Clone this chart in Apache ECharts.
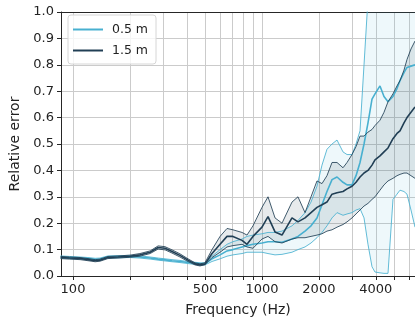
<!DOCTYPE html>
<html>
<head>
<meta charset="utf-8">
<script src="https://cdn.jsdelivr.net/npm/echarts@6/dist/echarts.min.js"></script>
<style>
html,body{margin:0;padding:0;background:#fff;}
#chart{width:415px;height:322px;}
</style>
</head>
<body>
<div id="chart"></div>
<script>
// frequencies (Hz)
var freq = [86,96,109,120,131,139,153,173,200,226,256,282,307,334,368,406,442,470,
    499,544,600,653,702,784,833,896,1000,1076,1172,1276,1441,1550,1689,1817,1954,2077,
    2207,2347,2494,2683,2818,2994,3144,3301,3466,3638,3820,3962,4210,4421,4642,4932,
    5179,5372,5640,5851,6143,6450];

// 0.5 m : lower bound / mean / upper bound
var nearLo = [0.068,0.066,0.064,0.062,0.059,0.060,0.068,0.069,0.070,0.068,0.064,0.060,0.057,0.054,0.051,0.047,0.044,0.042,
    0.042,0.055,0.065,0.075,0.080,0.085,0.090,0.090,0.090,0.085,0.080,0.082,0.090,0.100,0.110,0.125,0.145,0.165,
    0.190,0.220,0.240,0.230,0.235,0.240,0.250,0.255,0.220,0.120,0.035,0.015,0.012,0.010,0.010,0.290,
    0.310,0.325,0.320,0.310,0.250,0.185];
var nearMean = [0.072,0.070,0.068,0.066,0.063,0.064,0.072,0.073,0.074,0.072,0.068,0.064,0.061,0.058,0.055,0.051,0.048,0.046,
    0.046,0.065,0.080,0.095,0.100,0.110,0.115,0.120,0.125,0.130,0.130,0.128,0.140,0.150,0.170,0.190,0.220,0.270,
    0.320,0.365,0.375,0.355,0.345,0.345,0.380,0.430,0.500,0.580,0.670,0.690,0.720,0.680,0.660,0.680,
    0.710,0.740,0.770,0.790,0.795,0.800];
var nearUp = [0.076,0.074,0.072,0.070,0.067,0.068,0.076,0.077,0.078,0.076,0.072,0.068,0.065,0.062,0.059,0.055,0.052,0.050,
    0.050,0.075,0.100,0.120,0.130,0.140,0.150,0.155,0.160,0.165,0.165,0.170,0.190,0.210,0.240,0.280,0.340,0.420,
    0.480,0.500,0.515,0.470,0.460,0.460,0.500,0.550,0.800,1.050,1.300,1.500,1.600,1.700,1.750,1.800,
    1.850,1.900,1.950,2.000,2.050,2.100];

// 1.5 m : lower bound / mean / upper bound
var farLo = [0.066,0.064,0.062,0.058,0.054,0.056,0.066,0.068,0.071,0.075,0.085,0.102,0.099,0.087,0.072,0.055,0.042,0.038,
    0.043,0.070,0.090,0.110,0.115,0.120,0.110,0.105,0.140,0.150,0.130,0.125,0.140,0.145,0.145,0.150,0.155,0.160,
    0.170,0.175,0.185,0.195,0.205,0.220,0.235,0.250,0.265,0.275,0.290,0.300,0.325,0.345,0.360,0.370,
    0.380,0.385,0.390,0.390,0.380,0.370];
var farMean = [0.070,0.068,0.066,0.062,0.058,0.060,0.070,0.072,0.075,0.080,0.090,0.108,0.105,0.093,0.078,0.060,0.046,0.042,
    0.045,0.085,0.120,0.150,0.150,0.135,0.120,0.150,0.185,0.225,0.167,0.155,0.220,0.205,0.220,0.240,0.260,0.270,
    0.280,0.310,0.315,0.320,0.330,0.340,0.355,0.375,0.390,0.400,0.420,0.440,0.455,0.470,0.485,0.520,
    0.540,0.550,0.580,0.600,0.620,0.640];
var farUp = [0.074,0.072,0.070,0.066,0.062,0.064,0.074,0.076,0.079,0.085,0.095,0.114,0.111,0.099,0.084,0.065,0.050,0.046,
    0.050,0.100,0.150,0.180,0.175,0.165,0.155,0.190,0.260,0.300,0.220,0.200,0.280,0.300,0.240,0.300,0.360,0.350,
    0.380,0.430,0.430,0.410,0.430,0.460,0.490,0.530,0.530,0.545,0.555,0.570,0.590,0.620,0.660,0.690,
    0.720,0.740,0.780,0.820,0.860,0.890];

var tickFreqs = [100,200,300,400,500,600,700,800,900,1000,2000,3000,4000,5000,6000];
var labelFreqs = [100,500,1000,2000,4000];

var nearColor = '#48b0d0';
var farColor = '#213f55';
var axisColor = '#262626';
var gridColor = '#cbcbcb';

function pairs(vals){
    var out = [];
    for (var i = 0; i < freq.length; i++) {
        out.push([freq[i], vals[i]]);
    }
    return out;
}

// shaded band between lower and upper bound, polygon built from axis coords
function bandSeries(name, up, lo, fill){
    return {
        name: name, type: 'custom', silent: true, clip: true, z: 1,
        data: [0],
        renderItem: function(params, api){
            var pts = [];
            for (var i = 0; i < freq.length; i++) {
                pts.push(api.coord([freq[i], up[i]]));
            }
            for (var j = freq.length - 1; j >= 0; j--) {
                pts.push(api.coord([freq[j], lo[j]]));
            }
            var cs = params.coordSys;
            return {
                type: 'polygon',
                shape: {points: pts},
                style: {fill: fill, stroke: 'none'},
                clipPath: {type: 'rect', shape: {x: cs.x, y: cs.y, width: cs.width, height: cs.height}}
            };
        }
    };
}
function lineSeries(name, vals, color, width, opacity, z){
    return {
        name: name, type: 'line', data: pairs(vals), symbol: 'none',
        lineStyle: {color: color, width: width, opacity: opacity},
        itemStyle: {color: color}, z: z
    };
}

var series = [];
series.push(bandSeries('near_band', nearUp, nearLo, 'rgba(72,176,208,0.09)'));
series.push(bandSeries('far_band', farUp, farLo, 'rgba(33,63,85,0.11)'));
series.push(lineSeries('near_lo', nearLo, nearColor, 1, 0.85, 2));
series.push(lineSeries('near_up', nearUp, nearColor, 1, 0.85, 2));
series.push(lineSeries('0.5 m', nearMean, nearColor, 1.6, 1, 3));
series.push(lineSeries('far_lo', farLo, farColor, 1, 0.85, 4));
series.push(lineSeries('far_up', farUp, farColor, 1, 0.85, 4));
series.push(lineSeries('1.5 m', farMean, farColor, 1.6, 1, 5));

var chart = echarts.init(document.getElementById('chart'), null, {renderer: 'canvas'});
chart.setOption({
    animation: false,
    textStyle: {fontFamily: 'DejaVu Sans'},
    grid: {left: 61, right: 0, top: 12, bottom: 46, containLabel: false},
    legend: {
        data: ['0.5 m', '1.5 m'],
        orient: 'vertical', left: 68, top: 15,
        icon: 'rect', itemWidth: 30, itemHeight: 2,
        itemGap: 8, padding: [8, 8, 7, 5],
        backgroundColor: 'rgba(255,255,255,0.8)',
        borderColor: '#d6d6d6', borderWidth: 1, borderRadius: 3,
        textStyle: {fontSize: 12.5, color: '#222', fontFamily: 'DejaVu Sans', padding: [0, 0, 0, 4]}
    },
    xAxis: [{
        type: 'log', logBase: 10, min: 86.4, max: 6450,
        name: 'Frequency (Hz)', nameLocation: 'middle', nameGap: 27,
        nameTextStyle: {fontSize: 14, color: '#222'},
        axisLine: {show: true, onZero: false, lineStyle: {color: axisColor, width: 1}},
        axisTick: {show: true, length: 4, customValues: tickFreqs, lineStyle: {color: axisColor}},
        axisLabel: {
            customValues: labelFreqs, margin: 7, fontSize: 13, color: '#222',
            formatter: function(v){ return String(Math.round(v)); }
        },
        splitLine: {show: true, lineStyle: {color: gridColor, width: 1}}
    }, {
        type: 'log', logBase: 10, min: 86.4, max: 6450, position: 'top',
        axisLine: {show: true, onZero: false, lineStyle: {color: axisColor, width: 1}},
        axisTick: {show: false}, axisLabel: {show: false}, splitLine: {show: false}
    }],
    yAxis: {
        type: 'value', min: 0, max: 1, interval: 0.1,
        name: 'Relative error', nameLocation: 'middle', nameGap: 38,
        nameTextStyle: {fontSize: 14, color: '#222'},
        axisLine: {show: true, lineStyle: {color: axisColor, width: 1}},
        axisTick: {show: true, length: 4, lineStyle: {color: axisColor}},
        axisLabel: {
            margin: 7, fontSize: 13, color: '#222',
            formatter: function(v){ return v.toFixed(1); }
        },
        splitLine: {show: true, lineStyle: {color: gridColor, width: 1}}
    },
    series: series
});
</script>
</body>
</html>
